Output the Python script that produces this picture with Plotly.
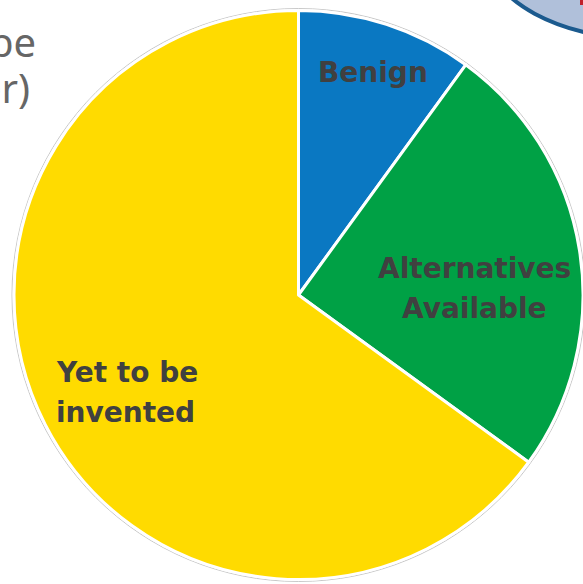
import plotly.graph_objects as go

labels = ["Benign", "Alternatives Available", "Yet to be invented"]
label_lines = [["Benign"], ["Alternatives", "Available"], ["Yet to be", "invented"]]
values = [10, 25, 65]
colors = ["#0A78C2", "#00A145", "#FFDB00"]
side_text = ["be", "er)"]

W, H = 583, 584

def px(x):
    return x / W

def py(y):
    return 1 - y / H

fig = go.Figure()
fig.add_trace(go.Pie(
    labels=labels,
    values=values,
    sort=False,
    direction="clockwise",
    rotation=0,
    textinfo="none",
    hoverinfo="label+percent",
    marker=dict(colors=colors, line=dict(color="white", width=3)),
    domain=dict(x=[px(14), 1.0], y=[py(580.5), py(9.5)]),
    showlegend=False,
))

# label anchor positions (pixel coords): (x, first line y, anchor)
label_pos = [(373, 72, "center"), (474, 268, "center"), (54, 372, "left")]
line_gap = 40
annotations = []
for lines, (x, y, anc) in zip(label_lines, label_pos):
    for i, t in enumerate(lines):
        annotations.append(dict(
            x=px(x), y=py(y + i * line_gap), xref="paper", yref="paper", text=t,
            showarrow=False, xanchor=anc, yanchor="middle",
            font=dict(family="DejaVu Sans", size=28, color="#404040", weight="bold"),
        ))

# cut-off grey text at top left
for t, (x, y) in zip(side_text, [(38, 42), (32, 88)]):
    annotations.append(dict(
        x=px(x), y=py(y), xref="paper", yref="paper", text=t, showarrow=False,
        xanchor="right", yanchor="middle",
        font=dict(family="Noto Sans", size=40, color="#666666"),
    ))

cx, cy, r = 298.5, 295, 286.5
shapes = [
    dict(type="circle", xref="paper", yref="paper", layer="below",
         x0=px(cx - r), x1=px(cx + r), y0=py(cy + r), y1=py(cy - r),
         line=dict(color="#C8C8C8", width=1), fillcolor="rgba(0,0,0,0)"),
    # partial ellipse at top right
    dict(type="circle", xref="paper", yref="paper", layer="above",
         x0=px(486), x1=px(818), y0=py(40), y1=py(-140),
         line=dict(color="#1B5A8E", width=4), fillcolor="#B0C0DA"),
    dict(type="rect", xref="paper", yref="paper", layer="above",
         x0=px(580), x1=px(583), y0=py(5), y1=py(0),
         line=dict(width=0), fillcolor="#C0202A"),
]

fig.update_layout(
    width=W, height=H,
    margin=dict(l=0, r=0, t=0, b=0),
    paper_bgcolor="white", plot_bgcolor="white",
    annotations=annotations,
    shapes=shapes,
)

fig.write_html(
    "out.html",
    config={"displayModeBar": False},
    post_script="document.body.style.margin='0';document.body.style.overflow='hidden';",
)
